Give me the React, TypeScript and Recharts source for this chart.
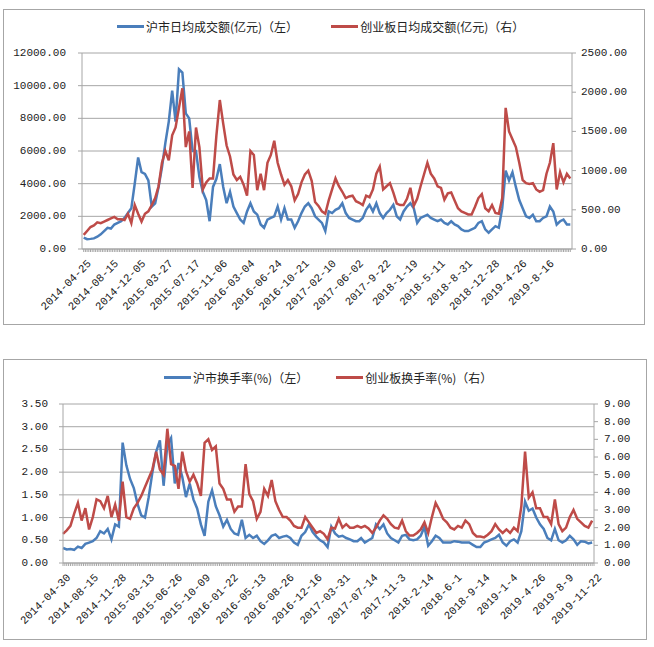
import { LineChart, Line, XAxis, YAxis, CartesianGrid } from 'recharts';

// 上图：周度日均成交额（每两周取一个点）
const topLabels = [
  '2014-04-25', '2014-08-15', '2014-12-05', '2015-03-27', '2015-07-17', '2015-11-06',
  '2016-03-04', '2016-06-24', '2016-10-21', '2017-02-10', '2017-06-02', '2017-9-22',
  '2018-1-19', '2018-5-11', '2018-8-31', '2018-12-28', '2019-4-26', '2019-8-16',
];

const shAmount = [
  700, 600, 620, 650, 750, 900, 1100, 1300, 1250, 1500, 1600, 1700, 1900, 2200, 2500, 4000,
  5600, 4700, 4600, 4200, 2600, 2800, 3800, 5000, 6500, 7800, 9700, 7800, 11000, 10800, 8300, 8000,
  6000, 6000, 4400, 3500, 3000, 1700, 3800, 4300, 5200, 3800, 2800, 3500, 2600, 2200, 1800, 1600,
  2300, 2800, 2300, 2100, 1500, 1300, 1800, 1900, 2000, 2600, 1800, 2500, 1800, 1800, 1300, 1700,
  2200, 2600, 2800, 2500, 2000, 1800, 1600, 1100, 2300, 2200, 2400, 2500, 2800, 2200, 1900, 1800,
  1700, 1700, 1900, 2400, 2700, 2300, 2800, 2200, 1900, 2200, 2400, 2700, 2000, 1800, 2300, 2600,
  2800, 2500, 1600, 1900, 2000, 2100, 1900, 1800, 1700, 1800, 1600, 1500, 1700, 1500, 1400, 1200,
  1100, 1100, 1200, 1300, 1600, 1700, 1200, 1000, 1200, 1400, 1300, 2500, 4800, 4200, 4700, 3800,
  3000, 2500, 2000, 1900, 2100, 1700, 1700, 1900, 2000, 2600, 2300, 1500, 1700, 1800, 1500, 1500,
];

const cybAmount = [
  180, 230, 280, 300, 340, 330, 350, 370, 390, 410, 380, 380, 370, 450, 330, 560,
  450, 350, 450, 480, 560, 650, 800, 1100, 1250, 1130, 1450, 1550, 1800, 2050, 1300, 1500,
  780, 1550, 1300, 760, 850, 900, 900, 1450, 1900, 1600, 1320, 1180, 950, 880, 920, 820,
  680, 1250, 1200, 750, 960, 750, 1100, 1200, 1380, 1100, 950, 820, 880, 800, 620, 700,
  850, 950, 1000, 870, 600, 550, 480, 450, 620, 760, 900, 800, 730, 650, 670, 680,
  610, 590, 560, 680, 660, 760, 960, 1050, 760, 800, 840, 720, 580, 560, 560, 640,
  780, 550, 640, 800, 950, 1100, 960, 900, 800, 780, 630, 710, 720, 620, 520, 480,
  460, 440, 440, 540, 650, 700, 520, 480, 560, 460, 450, 650, 1800, 1500, 1400, 1300,
  1100, 880, 840, 830, 840, 760, 730, 750, 960, 1100, 1350, 760, 980, 850, 960, 900,
];

// 下图：周度换手率（每两周取一个点）
const bottomLabels = [
  '2014-04-30', '2014-08-15', '2014-11-28', '2015-03-13', '2015-06-26', '2015-10-09',
  '2016-01-22', '2016-05-13', '2016-08-26', '2016-12-16', '2017-03-31', '2017-07-14',
  '2017-11-3', '2018-2-14', '2018-6-1', '2018-9-14', '2019-1-4', '2019-4-26',
  '2019-8-9', '2019-11-22',
];

const shRate = [
  0.33, 0.30, 0.31, 0.29, 0.36, 0.33, 0.42, 0.45, 0.48, 0.55, 0.70, 0.65, 0.75, 0.52, 0.85, 0.80,
  2.65, 2.15, 1.85, 1.65, 1.30, 1.05, 1.00, 1.45, 2.00, 2.45, 2.70, 1.70, 2.60, 2.75, 1.75, 2.20,
  1.90, 1.45, 1.75, 1.40, 1.20, 0.85, 0.60, 1.35, 1.60, 1.25, 1.05, 0.80, 0.95, 0.75, 0.65, 0.62,
  0.95, 0.55, 0.62, 0.55, 0.60, 0.48, 0.42, 0.50, 0.60, 0.63, 0.55, 0.58, 0.60, 0.55, 0.45, 0.40,
  0.60, 0.68, 0.85, 0.68, 0.58, 0.50, 0.45, 0.35, 0.80, 0.65, 0.58, 0.60, 0.55, 0.52, 0.48, 0.48,
  0.55, 0.45, 0.50, 0.55, 0.85, 0.75, 0.85, 0.65, 0.55, 0.50, 0.45, 0.60, 0.62, 0.52, 0.50, 0.52,
  0.60, 0.80, 0.38, 0.48, 0.60, 0.55, 0.45, 0.45, 0.45, 0.48, 0.47, 0.45, 0.45, 0.45, 0.40, 0.35,
  0.35, 0.45, 0.48, 0.52, 0.55, 0.62, 0.45, 0.38, 0.48, 0.52, 0.45, 0.70, 1.35, 1.15, 1.20, 1.00,
  0.85, 0.75, 0.55, 0.50, 0.75, 0.50, 0.45, 0.50, 0.60, 0.52, 0.40, 0.48, 0.47, 0.43, 0.45,
];

const cybRate = [
  1.65, 1.85, 2.1, 2.8, 3.4, 2.4, 3.1, 1.9, 2.6, 3.6, 3.5, 3.1, 3.8, 2.6, 3.3, 2.4,
  4.6, 2.6, 2.5, 3.1, 3.4, 3.8, 4.3, 4.8, 5.3, 6.3, 5.3, 5.0, 7.6, 5.6, 5.5, 4.2,
  6.3, 5.2, 4.6, 5.0, 4.5, 3.8, 6.8, 7.0, 6.4, 6.6, 4.5, 4.2, 3.6, 3.6, 2.9, 3.2,
  3.2, 5.6, 3.9, 3.5, 2.5, 2.9, 4.2, 3.8, 4.7, 3.5, 3.0, 2.6, 2.6, 2.4, 2.1, 2.0,
  2.0, 2.6, 2.3, 2.0, 1.7, 1.8, 1.65, 1.35, 2.0, 1.95, 2.5, 2.0, 2.2, 2.0, 2.0, 2.1,
  2.0, 2.1, 1.95, 1.7, 2.0, 2.4, 2.7, 2.5, 2.2, 2.0, 1.95, 2.4, 1.8, 1.55, 1.55, 1.7,
  1.9, 2.3, 1.7, 2.6, 3.4, 3.0, 2.5, 2.3, 2.0, 1.9, 2.1, 2.0, 2.4, 2.2, 1.7, 1.5,
  1.5, 1.45, 1.6, 1.8, 2.2, 1.9, 1.7, 1.9, 1.7, 2.0, 1.8, 3.2, 6.3, 3.7, 4.0, 3.1,
  3.1, 2.6, 2.6, 2.2, 3.6, 2.2, 1.8, 2.0, 2.6, 3.0, 2.5, 2.3, 2.1, 2.0, 2.4,
];

const BLUE = '#4a7ebb';
const RED = '#be4b48';
const GRID = '#a6a6a6';
const NUM_FONT = "'Liberation Mono', 'DejaVu Sans Mono', 'Liberation Sans', sans-serif";
const CJK_FONT = "'Noto Sans CJK SC', sans-serif";
const CHAR_W = 6.6; // 半角字符宽度

const topData = shAmount.map((v, i) => ({ week: i * 2, sh: v, cyb: cybAmount[i] }));
const bottomData = shRate.map((v, i) => ({ week: i * 2, sh: v, cyb: cybRate[i] }));

const topWeeks = Array.from({ length: 287 }, (_, i) => i);
const bottomWeeks = Array.from({ length: 286 }, (_, i) => i);

function WeekTick(props: any) {
  const { x, y, payload, labels, step } = props;
  const w = payload.value;
  if (w % step !== 0) return null;
  const label = labels[w / step];
  if (!label) return null;
  const tx = x + 3;
  const ty = y + 5;
  return (
    <text
      x={tx}
      y={ty}
      transform={`rotate(-45 ${tx} ${ty})`}
      textAnchor="end"
      dominantBaseline="hanging"
      textLength={label.length * CHAR_W}
      lengthAdjust="spacing"
      style={{ fontSize: 11, fontFamily: NUM_FONT, fill: '#222' }}
    >
      {label}
    </text>
  );
}

function ValueTick(props: any) {
  const { x, y, payload, textAnchor } = props;
  const label = Number(payload.value).toFixed(2);
  return (
    <text
      x={x}
      y={y}
      textAnchor={textAnchor}
      dominantBaseline="central"
      textLength={label.length * CHAR_W}
      lengthAdjust="spacing"
      style={{ fontSize: 11, fontFamily: NUM_FONT, fill: '#222' }}
    >
      {label}
    </text>
  );
}

function LegendItem({ color, text }: { color: string; text: string }) {
  return (
    <div style={{ display: 'flex', alignItems: 'center' }}>
      <div style={{ width: 27, height: 3, background: color, marginRight: 2 }} />
      <span style={{ fontSize: 12, fontFamily: CJK_FONT, color: '#222', whiteSpace: 'nowrap' }}>{text}</span>
    </div>
  );
}

export default function App() {
  return (
    <div style={{ position: 'absolute', left: 0, top: 0, width: 654, height: 647, background: '#fff' }}>
      {/* 上图边框 */}
      <div style={{ position: 'absolute', left: 3, top: 9, width: 642, height: 316, border: `1px solid ${GRID}`, boxSizing: 'border-box' }} />
      <div style={{ position: 'absolute', left: 117, top: 18, display: 'flex', gap: 33 }}>
        <LegendItem color={BLUE} text="沪市日均成交额(亿元)（左）" />
        <LegendItem color={RED} text="创业板日均成交额(亿元)（右）" />
      </div>
      <div style={{ position: 'absolute', left: 0, top: 0 }}>
        <LineChart width={654} height={330} data={topData} margin={{ top: 53, right: 0, left: 0, bottom: 0 }}>
          <CartesianGrid yAxisId="left" vertical={false} stroke={GRID} />
          <XAxis
            type="number"
            dataKey="week"
            domain={[-1, 287]}
            ticks={topWeeks}
            interval={0}
            height={81}
            tickSize={3}
            tickLine={{ stroke: GRID }}
            axisLine={{ stroke: GRID }}
            tick={(p: any) => <WeekTick {...p} labels={topLabels} step={16} />}
          />
          <YAxis
            yAxisId="left"
            width={82}
            domain={[0, 12000]}
            ticks={[0, 2000, 4000, 6000, 8000, 10000, 12000]}
            interval={0}
            tick={(p: any) => <ValueTick {...p} />}
            tickSize={4}
            tickMargin={12}
            tickLine={{ stroke: GRID }}
            axisLine={{ stroke: GRID }}
          />
          <YAxis
            yAxisId="right"
            orientation="right"
            width={82}
            domain={[0, 2500]}
            ticks={[0, 500, 1000, 1500, 2000, 2500]}
            interval={0}
            tick={(p: any) => <ValueTick {...p} />}
            tickSize={4}
            tickMargin={5}
            tickLine={{ stroke: GRID }}
            axisLine={{ stroke: GRID }}
          />
          <Line yAxisId="left" dataKey="sh" stroke={BLUE} strokeWidth={2.5} dot={false} isAnimationActive={false} />
          <Line yAxisId="right" dataKey="cyb" stroke={RED} strokeWidth={2.5} dot={false} isAnimationActive={false} />
        </LineChart>
      </div>

      {/* 下图边框 */}
      <div style={{ position: 'absolute', left: 3, top: 359, width: 644, height: 281, border: `1px solid ${GRID}`, boxSizing: 'border-box' }} />
      <div style={{ position: 'absolute', left: 164, top: 369, display: 'flex', gap: 28 }}>
        <LegendItem color={BLUE} text="沪市换手率(%)（左）" />
        <LegendItem color={RED} text="创业板换手率(%)（右）" />
      </div>
      <div style={{ position: 'absolute', left: 0, top: 330 }}>
        <LineChart width={654} height={317} data={bottomData} margin={{ top: 74, right: 0, left: 0, bottom: 0 }}>
          <CartesianGrid yAxisId="left" vertical={false} stroke={GRID} />
          <XAxis
            type="number"
            dataKey="week"
            domain={[0, 285]}
            ticks={bottomWeeks}
            interval={0}
            height={84}
            tickSize={3}
            tickLine={{ stroke: GRID }}
            axisLine={{ stroke: GRID }}
            tick={(p: any) => <WeekTick {...p} labels={bottomLabels} step={15} />}
          />
          <YAxis
            yAxisId="left"
            width={63}
            domain={[0, 3.5]}
            ticks={[0, 0.5, 1, 1.5, 2, 2.5, 3, 3.5]}
            interval={0}
            tick={(p: any) => <ValueTick {...p} />}
            tickSize={4}
            tickMargin={11}
            tickLine={{ stroke: GRID }}
            axisLine={{ stroke: GRID }}
          />
          <YAxis
            yAxisId="right"
            orientation="right"
            width={60}
            domain={[0, 9]}
            ticks={[0, 1, 2, 3, 4, 5, 6, 7, 8, 9]}
            interval={0}
            tick={(p: any) => <ValueTick {...p} />}
            tickSize={4}
            tickMargin={6}
            tickLine={{ stroke: GRID }}
            axisLine={{ stroke: GRID }}
          />
          <Line yAxisId="left" dataKey="sh" stroke={BLUE} strokeWidth={2.5} dot={false} isAnimationActive={false} />
          <Line yAxisId="right" dataKey="cyb" stroke={RED} strokeWidth={2.5} dot={false} isAnimationActive={false} />
        </LineChart>
      </div>
    </div>
  );
}
